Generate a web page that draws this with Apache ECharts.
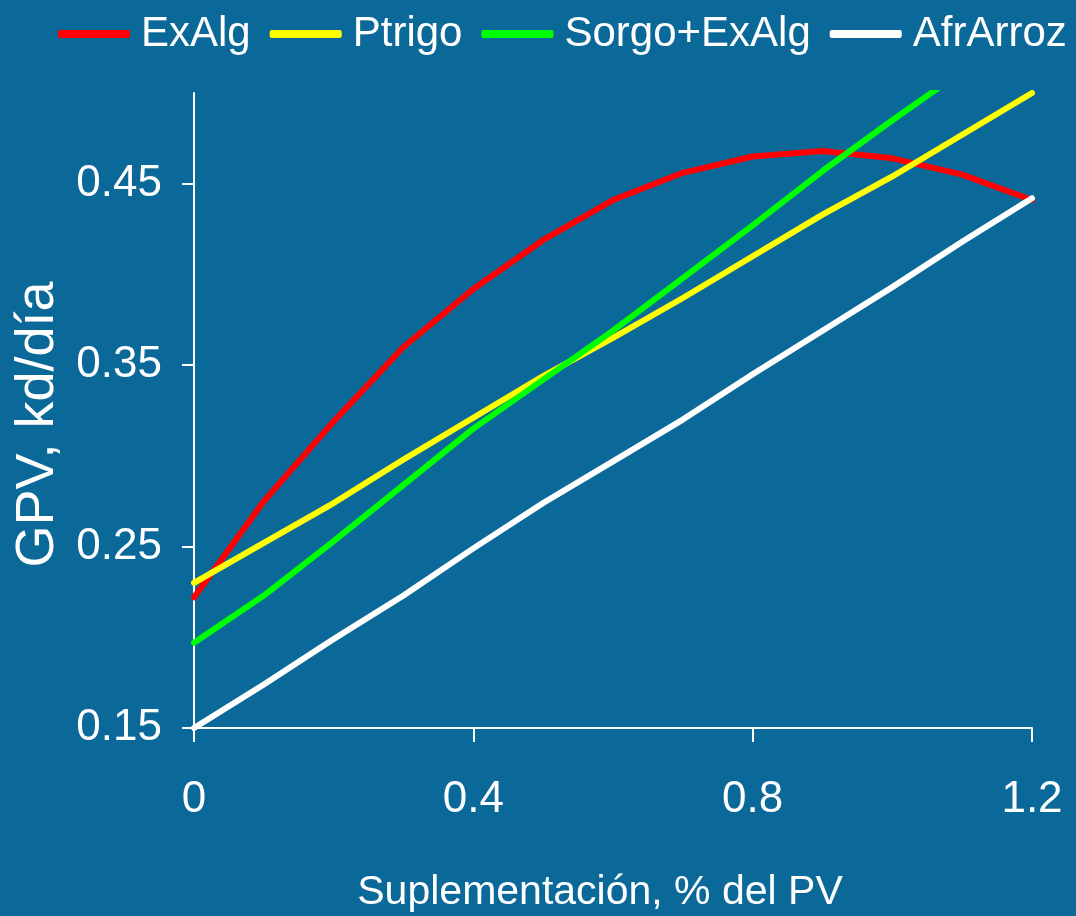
<!DOCTYPE html>
<html>
<head>
<meta charset="utf-8">
<script src="https://cdn.jsdelivr.net/npm/echarts@6/dist/echarts.min.js"></script>
<style>
html,body{margin:0;padding:0;background:#0b699a;}
#chart{width:1076px;height:916px;}
</style>
</head>
<body>
<div id="chart"></div>
<script>
var suplementacion = [0, 0.1, 0.2, 0.3, 0.4, 0.5, 0.6, 0.7, 0.8, 0.9, 1.0, 1.1, 1.2];
var exAlg      = [0.222, 0.275, 0.319, 0.360, 0.392, 0.419, 0.441, 0.456, 0.465, 0.468, 0.464, 0.455, 0.441];
var ptrigo     = [0.230, 0.252, 0.274, 0.298, 0.321, 0.344, 0.365, 0.387, 0.410, 0.433, 0.454, 0.477, 0.500];
var sorgoExAlg = [0.197, 0.223, 0.253, 0.284, 0.315, 0.342, 0.369, 0.398, 0.427, 0.457, 0.485, 0.512];
var afrArroz   = [0.150, 0.174, 0.199, 0.223, 0.249, 0.274, 0.297, 0.320, 0.345, 0.369, 0.393, 0.418, 0.442];
var seriesNames = ['ExAlg', 'Ptrigo', 'Sorgo+ExAlg', 'AfrArroz'];
var xTicks = [0, 0.4, 0.8, 1.2];
var yTicks = [0.15, 0.25, 0.35, 0.45];

function pairs(vals) {
  return vals.map(function (v, i) { return [suplementacion[i], v]; });
}

var font = "'Liberation Sans', Arial, sans-serif";
var colors = ['#ff0000', '#ffff00', '#00ff00', '#ffffff'];
var allData = [exAlg, ptrigo, sorgoExAlg, afrArroz];

var chart = echarts.init(document.getElementById('chart'));
chart.setOption({
  backgroundColor: '#0b699a',
  animation: false,
  color: colors,
  legend: {
    top: 13,
    left: 58,
    width: 1018,
    padding: 0,
    itemWidth: 72,
    itemHeight: 8,
    itemGap: 19,
    icon: 'roundRect',
    textStyle: { color: '#ffffff', fontSize: 42, fontFamily: font, padding: [0, 0, 0, 6] },
    data: seriesNames
  },
  grid: { left: 194, right: 44, top: 93, bottom: 188, containLabel: false, outerBoundsMode: 'none' },
  xAxis: {
    type: 'value',
    min: 0,
    max: 1.2,
    interval: 0.4,
    splitLine: { show: false },
    axisLine: { show: true, lineStyle: { color: '#ffffff', width: 2 } },
    axisTick: { show: true, length: 14, customValues: xTicks, lineStyle: { color: '#ffffff', width: 2 } },
    axisLabel: {
      color: '#ffffff', fontSize: 44, fontFamily: font, margin: 50,
      customValues: xTicks,
      formatter: function (v) { return String(Math.round(v * 10) / 10); }
    },
    name: 'Suplementación, % del PV',
    nameLocation: 'middle',
    nameGap: 144,
    nameTextStyle: { color: '#ffffff', fontSize: 41, fontFamily: font, padding: [0, 26, 0, 0] }
  },
  yAxis: {
    type: 'value',
    min: 0.15,
    max: 0.5,
    splitLine: { show: false },
    axisLine: { show: true, lineStyle: { color: '#ffffff', width: 2 } },
    axisTick: { show: true, length: 12, customValues: yTicks, lineStyle: { color: '#ffffff', width: 2 } },
    axisLabel: {
      color: '#ffffff', fontSize: 44, fontFamily: font, margin: 32,
      customValues: yTicks,
      formatter: function (v) { return (Math.round(v * 100) / 100).toFixed(2); }
    },
    name: 'GPV, kd/día',
    nameLocation: 'middle',
    nameGap: 125,
    nameRotate: 90,
    nameTextStyle: { color: '#ffffff', fontSize: 54, fontFamily: font, padding: [0, 28, 0, 0] }
  },
  series: seriesNames.map(function (n, i) {
    return {
      name: n,
      type: 'line',
      data: pairs(allData[i]),
      showSymbol: false,
      symbol: 'none',
      clip: true,
      lineStyle: { color: colors[i], width: 6, cap: 'round', join: 'round' },
      itemStyle: { color: colors[i] }
    };
  })
});
</script>
</body>
</html>
